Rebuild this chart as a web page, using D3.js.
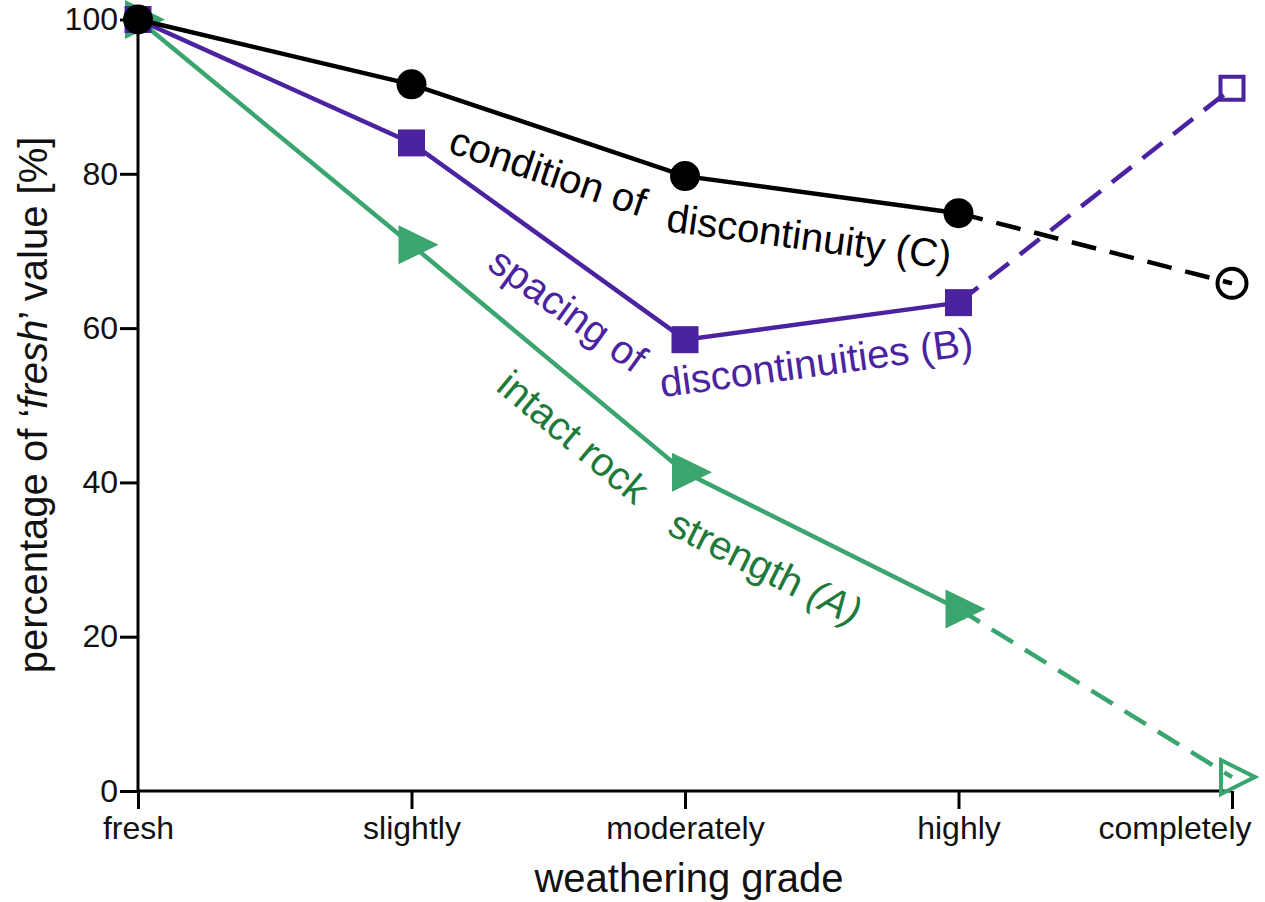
<!DOCTYPE html>
<html>
<head>
<meta charset="utf-8">
<script src="https://cdn.jsdelivr.net/npm/d3@7"></script>
<style>
  body { margin: 0; background: #fff; }
  svg { font-family: "Liberation Sans", Arial, sans-serif; }
</style>
</head>
<body>
<svg id="chart" width="1265" height="902"></svg>
<script>
// data
const grades = ["fresh", "slightly", "moderately", "highly", "completely"];
const yTicks = [0, 20, 40, 60, 80, 100];
const conditionC = [100, 91.6, 79.7, 74.9, 65.8];
const spacingB = [100, 84.0, 58.5, 63.3, 91.1];
const strengthA = [100, 70.8, 41.3, 23.6, 1.8];

const svg = d3.select("#chart");

const x = d3.scalePoint().domain(grades).range([138, 1232]);
const y = d3.scaleLinear().domain([0, 100]).range([791, 19.5]);

const black = "#000", purple = "#4b23a0", green = "#3ba56f", darkGreen = "#1d7a3b";

// series, drawn bottom to top
const series = [
  { key: "A", values: strengthA, color: green, text: darkGreen, marker: "triangle" },
  { key: "B", values: spacingB, color: purple, text: purple, marker: "square" },
  { key: "C", values: conditionC, color: black, text: black, marker: "circle" }
];

// label pieces follow the segment they sit under
const labels = [
  { key: "C", seg: 1, t: 0.545, off: 53, parts: [["condition of", false]] },
  { key: "C", seg: 2, t: 0.475, off: 57, parts: [["discontinuity (C)", false]] },
  { key: "B", seg: 1, t: 0.666, off: 58, parts: [["spacing of", false]] },
  { key: "B", seg: 2, t: 0.46, off: 54, parts: [["discontinuities (B)", false]] },
  { key: "A", seg: 1, t: 0.695, off: 58, parts: [["intact rock", false]] },
  { key: "A", seg: 2, t: 0.374, off: 63, parts: [["strength ", false], ["(A)", true]] }
];

// axes
const xAxis = svg.append("g")
  .attr("transform", "translate(0," + y(0) + ")")
  .call(d3.axisBottom(x).tickSize(18).tickPadding(7));
const yAxis = svg.append("g")
  .attr("transform", "translate(" + x("fresh") + ",0)")
  .call(d3.axisLeft(y).tickValues(yTicks).tickSize(18).tickPadding(2));

[xAxis, yAxis].forEach(a => {
  a.select(".domain").attr("stroke", "#000").attr("stroke-width", 3);
  a.selectAll(".tick line").attr("stroke", "#000").attr("stroke-width", 3);
  a.selectAll(".tick text").attr("fill", "#111").attr("font-size", 32)
    .attr("font-family", "'Liberation Sans', Arial, sans-serif");
});
xAxis.select(".domain").attr("d", "M" + x("fresh") + ",0H" + x("completely"));
yAxis.select(".domain").attr("d", "M0," + y(0) + "V" + y(100));
// last label sits left of its tick, as in the figure
xAxis.selectAll(".tick text").filter(d => d === "completely")
  .attr("text-anchor", "end").attr("x", 19);

// titles
svg.append("text")
  .attr("x", 689).attr("y", 892)
  .attr("text-anchor", "middle")
  .attr("font-size", 40)
  .attr("fill", "#111")
  .text("weathering grade");

const yTitle = svg.append("text")
  .attr("transform", "translate(47,405) rotate(-90)")
  .attr("text-anchor", "middle")
  .attr("font-size", 40)
  .attr("fill", "#111");
yTitle.append("tspan").text("percentage of \u2018");
yTitle.append("tspan").attr("font-style", "italic").text("fresh");
yTitle.append("tspan").text("\u2019 value [%]");

// lines and markers
const line = d3.line().x((d, i) => x(grades[i])).y(d => y(d));

function markerPath(type) {
  if (type === "circle") return "M15,0A15,15 0 1,1 -15,0A15,15 0 1,1 15,0Z";
  if (type === "square") return "M-13.5,-13.5H13.5V13.5H-13.5Z";
  return "M-13,-19.5L27,0L-13,19.5Z";
}
function openPath(type) {
  if (type === "circle") return "M14.5,0A14.5,14.5 0 1,1 -14.5,0A14.5,14.5 0 1,1 14.5,0Z";
  if (type === "square") return "M-11.5,-11.5H11.5V11.5H-11.5Z";
  return "M-11,-17L23,0L-11,17Z";
}

series.forEach(s => {
  const g = svg.append("g");
  const solid = s.values.slice(0, 4);
  g.append("path")
    .attr("d", line(solid))
    .attr("fill", "none")
    .attr("stroke", s.color)
    .attr("stroke-width", 4.5);
  g.append("path")
    .attr("d", "M" + x(grades[3]) + "," + y(s.values[3]) + "L" + x(grades[4]) + "," + y(s.values[4]))
    .attr("fill", "none")
    .attr("stroke", s.color)
    .attr("stroke-width", 4.5)
    .attr("stroke-dasharray", "25,14");

  g.selectAll(".pt")
    .data(solid)
    .enter().append("path")
    .attr("transform", (d, i) => "translate(" + x(grades[i]) + "," + y(d) + ")")
    .attr("d", markerPath(s.marker))
    .attr("fill", s.color);

  g.append("path")
    .attr("transform", "translate(" + x(grades[4]) + "," + y(s.values[4]) + ")")
    .attr("d", openPath(s.marker))
    .attr("fill", "none")
    .attr("stroke", s.color)
    .attr("stroke-width", 4);
});

// labels along the segments
labels.forEach(l => {
  const s = series.find(d => d.key === l.key);
  const x0 = x(grades[l.seg]), y0 = y(s.values[l.seg]);
  const x1 = x(grades[l.seg + 1]), y1 = y(s.values[l.seg + 1]);
  const px = x0 + (x1 - x0) * l.t, py = y0 + (y1 - y0) * l.t;
  const ang = Math.atan2(y1 - y0, x1 - x0) * 180 / Math.PI;
  const t = svg.append("text")
    .attr("transform", "translate(" + px + "," + py + ") rotate(" + ang + ")")
    .attr("y", l.off)
    .attr("text-anchor", "middle")
    .attr("font-size", 40)
    .attr("fill", s.text);
  l.parts.forEach(p => {
    t.append("tspan").attr("font-style", p[1] ? "italic" : null).text(p[0]);
  });
});
</script>
</body>
</html>
